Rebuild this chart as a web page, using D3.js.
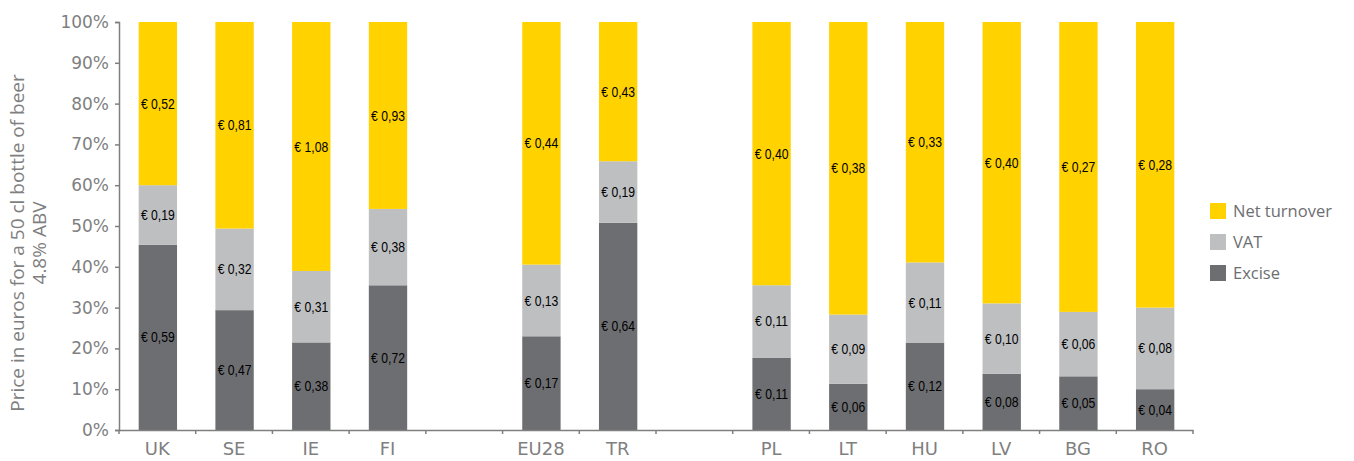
<!DOCTYPE html>
<html lang="en">
<head>
  <meta charset="UTF-8">
  <title>beer price split</title>
  <script src="https://cdn.jsdelivr.net/npm/d3@7"></script>
  <style>
    body { margin: 0; background: #fff; }
    svg text { font-family: "Open Sans", "DejaVu Sans", sans-serif; }
    .axis text { fill: #7f7f7f; font-family: "DejaVu Sans", Verdana, sans-serif; }
    .lbl { font-family: "Liberation Sans", Arial, sans-serif; }
  </style>
</head>
<body>
<svg id="chart"></svg>
<script>
  // categories, blanks keep the gaps between groups
  const countries = ['UK', 'SE', 'IE', 'FI', '', 'EU28', 'TR', ' ', 'PL', 'LT', 'HU', 'LV', 'BG', 'RO'];
  const excise   = [0.59, 0.47, 0.38, 0.72, null, 0.17, 0.64, null, 0.11, 0.06, 0.12, 0.08, 0.05, 0.04];
  const vat      = [0.19, 0.32, 0.31, 0.38, null, 0.13, 0.19, null, 0.11, 0.09, 0.11, 0.10, 0.06, 0.08];
  const turnover = [0.52, 0.81, 1.08, 0.93, null, 0.44, 0.43, null, 0.40, 0.38, 0.33, 0.40, 0.27, 0.28];
  const yTicks = [0, 0.1, 0.2, 0.3, 0.4, 0.5, 0.6, 0.7, 0.8, 0.9, 1];

  const series = [
    {key: 'excise', name: 'Excise', color: '#6d6e71'},
    {key: 'vat', name: 'VAT', color: '#bebfc1'},
    {key: 'turnover', name: 'Net turnover', color: '#ffd200'}
  ];

  const width = 1354, height = 461;
  const margin = {top: 22, right: 161, bottom: 31, left: 119};

  const svg = d3.select('#chart').attr('width', width).attr('height', height);

  const rows = countries.map((c, i) => ({
    country: c,
    excise: excise[i] || 0,
    vat: vat[i] || 0,
    turnover: turnover[i] || 0,
    empty: excise[i] == null
  }));

  const stacked = d3.stack()
    .keys(series.map(s => s.key))
    .offset(d3.stackOffsetExpand)(rows);

  const x = d3.scaleBand()
    .domain(countries)
    .range([margin.left, width - margin.right])
    .paddingInner(0.5)
    .paddingOuter(0.25);

  const y = d3.scaleLinear()
    .domain([0, 1])
    .range([height - margin.bottom, margin.top]);

  // bars
  stacked.forEach((layer, li) => {
    const g = svg.append('g').attr('fill', series[li].color);
    const pts = layer.filter(d => !d.data.empty);
    g.selectAll('rect')
      .data(pts)
      .join('rect')
      .attr('x', d => x(d.data.country) + 0.5)
      .attr('width', x.bandwidth())
      .attr('y', d => y(d[1]))
      .attr('height', d => y(d[0]) - y(d[1]));

    // narrow labels: squeeze the text horizontally
    svg.append('g').selectAll('text')
      .data(pts)
      .join('text')
      .attr('class', 'lbl')
      .attr('transform', d => `translate(${x(d.data.country) + x.bandwidth() / 2 + 0.5},${y((d[0] + d[1]) / 2)}) scale(0.84,1)`)
      .attr('dy', '0.35em')
      .attr('text-anchor', 'middle')
      .attr('font-size', 14.5)
      .attr('fill', '#000')
      .text(d => '€ ' + d.data[series[li].key].toFixed(2).replace('.', ','));
  });

  // y axis
  const yAxis = svg.append('g')
    .attr('class', 'axis')
    .attr('transform', `translate(${margin.left},0)`)
    .call(d3.axisLeft(y).tickValues(yTicks).tickFormat(d3.format('.0%')).tickSize(4).tickPadding(6));
  yAxis.selectAll('text').attr('font-size', 17);

  // x axis, ticks sit between the slots
  const xAxis = svg.append('g')
    .attr('class', 'axis')
    .attr('transform', `translate(0,${height - margin.bottom})`)
    .call(d3.axisBottom(x).tickSize(0).tickPadding(12));
  xAxis.selectAll('text').attr('font-size', 18);
  const step = x.step();
  const bounds = d3.range(countries.length + 1).map(i => margin.left + i * step);
  xAxis.selectAll('.sep')
    .data(bounds)
    .join('line')
    .attr('class', 'sep')
    .attr('x1', d => d).attr('x2', d => d)
    .attr('y1', 0).attr('y2', 4);
  svg.selectAll('.axis path, .axis line').attr('stroke', '#7f7f7f').attr('stroke-width', 1.5);

  // y title
  svg.append('text')
    .attr('transform', `translate(24,${(margin.top + height - margin.bottom) / 2 + 17}) rotate(-90)`)
    .attr('text-anchor', 'middle')
    .attr('font-size', 19)
    .attr('fill', '#7f7f7f')
    .selectAll('tspan')
    .data(['Price in euros for a 50 cl bottle of beer', '4.8% ABV'])
    .join('tspan')
    .attr('x', 0)
    .attr('dy', (d, i) => i ? '1.15em' : 0)
    .text(d => d);

  // legend
  const legend = svg.append('g').attr('transform', 'translate(1210,203)');
  series.slice().reverse().forEach((s, i) => {
    const row = legend.append('g').attr('transform', `translate(0,${i * 31})`);
    row.append('rect').attr('width', 16).attr('height', 16).attr('fill', s.color);
    row.append('text')
      .attr('x', 23).attr('y', 8).attr('dy', '0.35em')
      .attr('font-size', 16.5)
      .attr('fill', '#6d6e71')
      .text(s.name);
  });
</script>
</body>
</html>
